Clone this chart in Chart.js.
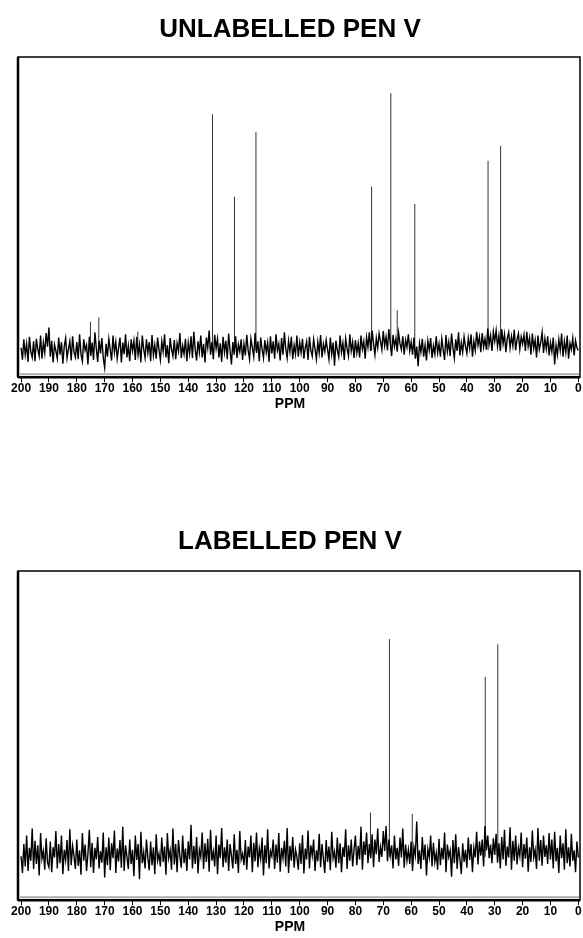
<!DOCTYPE html>
<html>
<head>
<meta charset="utf-8">
<script src="https://cdn.jsdelivr.net/npm/chart.js@4.4.1/dist/chart.umd.min.js"></script>
<style>
  html, body { margin: 0; padding: 0; background: #fff; }
  .panel { position: absolute; left: 0; width: 583px; }
</style>
</head>
<body>
<div class="panel" style="top:0px;height:413px"><canvas id="c1"></canvas></div>
<div class="panel" style="top:515px;height:423px"><canvas id="c2"></canvas></div>
<script>
// ---------------- DATA ----------------
const titles = ["UNLABELLED PEN V", "LABELLED PEN V"];
const axisTitle = "PPM";
const tickValues = [200,190,180,170,160,150,140,130,120,110,100,90,80,70,60,50,40,30,20,10,0];

// noise trace sampled every 0.5 ppm from 200 ppm down to 0 ppm (intensity, 0-1000 scale)
const noiseStartPpm = 200;
const noiseStepPpm = 0.5;

const topBaseline = 84;
const topNoise = [
 92,55,118,70,104,48,126,80,62,112,50,120,88,66,130,58,108,76,138,95,
 155,64,114,46,102,82,58,124,70,110,42,96,122,60,88,112,52,128,78,62,
 110,56,134,72,50,118,84,100,40,126,66,108,54,140,90,48,114,74,122,60,
 30,104,64,120,86,52,130,78,110,58,92,124,46,108,72,134,62,98,50,118,
 82,114,54,126,70,102,46,130,88,60,118,76,110,50,132,68,100,58,124,86,
 54,112,80,134,62,100,44,122,88,66,116,56,106,82,138,60,98,72,120,50,
 108,74,128,60,142,86,52,112,78,130,62,104,46,124,92,146,70,110,56,132,
 90,120,62,106,48,126,78,114,56,136,84,40,110,70,128,60,102,80,118,54,
 104,68,132,84,56,120,92,64,138,76,112,50,124,88,60,116,78,108,48,128,
 74,112,58,134,84,104,52,122,70,140,88,60,114,80,126,56,100,72,130,64,
 108,76,120,58,92,112,54,126,84,66,118,88,56,110,76,132,62,104,80,116,
 86,56,124,72,108,36,114,84,64,130,78,106,54,120,90,66,134,82,110,60,
 116,76,106,62,130,88,112,58,124,94,140,82,146,104,70,122,92,136,112,86,
 144,98,126,84,150,108,66,132,96,120,80,138,104,86,128,70,116,94,134,82,
 110,70,124,58,96,34,106,78,120,64,100,52,114,84,122,60,98,72,128,76,
 104,64,120,86,54,132,80,110,66,136,92,60,118,82,140,68,108,78,126,96,
 74,122,90,134,64,112,84,142,100,126,78,138,94,120,86,152,104,130,82,142,
 112,146,96,130,82,150,104,134,78,122,140,92,128,98,148,84,118,136,88,126,
 104,132,82,142,96,122,70,136,90,116,62,130,86,108,140,76,120,88,128,68,
 108,80,124,40,100,70,118,84,136,64,112,78,130,58,106,86,122,68,114,92,
 84
];
const topPeakPpm    = [175.1, 172.1, 158.1, 131.3, 123.4, 115.7, 74.2, 67.3, 65.0, 58.7, 32.4, 27.9];
const topPeakHeight = [173,   187,   142,   821,   563,   765,   595,  887,  209,  541,  676,  722];

const bottomBaseline = 110;
const bottomNoise = [
 112,60,150,80,176,66,138,98,198,72,160,88,146,52,184,104,128,70,168,92,
 78,158,62,140,108,190,74,150,90,176,56,132,100,162,66,196,84,144,112,72,
 164,82,130,54,184,98,148,66,120,194,78,154,60,138,102,172,74,128,92,186,
 46,140,84,170,68,152,106,192,60,136,96,162,76,204,66,146,110,72,164,88,
 132,50,176,100,150,40,188,90,124,74,164,108,68,158,84,140,56,180,98,120,
 80,170,94,142,54,184,106,130,70,198,86,150,62,162,112,76,176,90,136,66,
 158,102,210,74,144,88,172,58,132,110,186,72,152,94,166,64,194,98,126,80,
 176,56,148,106,200,78,140,92,164,66,150,114,74,180,88,132,60,190,102,120,
 84,162,70,142,108,176,62,154,96,186,78,136,104,170,52,146,90,196,74,128,
 112,164,72,148,92,184,64,138,106,160,80,200,60,144,98,172,76,132,110,70,
 152,88,178,58,136,102,192,74,146,114,164,66,130,96,182,78,150,104,60,162,
 94,142,68,188,106,126,76,170,90,152,62,140,110,196,72,146,98,164,80,132,
 176,84,144,102,204,70,158,116,186,90,150,106,180,78,164,118,198,94,140,110,
 190,128,206,96,164,114,146,74,176,102,138,82,170,108,198,76,148,98,132,88,
 158,66,140,114,220,88,130,72,172,100,148,52,134,108,176,80,154,94,122,70,
 166,84,138,102,186,62,148,110,130,48,162,90,180,72,140,104,56,152,94,132,
 76,170,100,150,62,138,108,188,86,158,114,164,80,206,130,176,106,148,90,168,
 116,182,92,152,74,172,102,194,82,142,108,202,70,160,98,176,86,138,112,186,
 78,150,104,170,64,140,94,192,108,132,72,200,98,162,82,176,110,146,88,184,
 102,164,74,188,96,138,60,176,106,152,70,196,90,140,80,182,98,130,62,158,
 108
];
const bottomPeakPpm    = [74.6, 67.8, 59.6, 33.4, 28.9];
const bottomPeakHeight = [248,  788,  244,  670,  772];

// ---------------- BUILD ----------------
const FONT = "'Liberation Sans', Arial, Helvetica, sans-serif";

function noisePoints(values) {
  return values.map((v, i) => ({ x: noiseStartPpm - i * noiseStepPpm, y: v }));
}
function peakPoints(ppms, heights, base) {
  const pts = [];
  ppms.forEach((p, i) => {
    pts.push({ x: p, y: base });
    pts.push({ x: p, y: heights[i] });
    pts.push({ x: p, y: null });
  });
  return pts;
}

const framePlugin = {
  id: 'frame',
  afterDatasetsDraw(chart) {
    const a = chart.chartArea, ctx = chart.ctx;
    ctx.save();
    ctx.strokeStyle = '#000';
    ctx.lineWidth = 1.5;
    ctx.strokeRect(a.left, a.top, a.right - a.left, a.bottom - a.top);
    ctx.lineWidth = 2.5;
    ctx.beginPath(); ctx.moveTo(a.left, a.top); ctx.lineTo(a.left, a.bottom); ctx.stroke();
    ctx.beginPath(); ctx.moveTo(a.left, a.bottom); ctx.lineTo(a.right, a.bottom); ctx.stroke();
    ctx.strokeStyle = '#aaa';
    ctx.lineWidth = 2;
    ctx.beginPath(); ctx.moveTo(a.left + 2, a.bottom - 3); ctx.lineTo(a.right - 1, a.bottom - 3); ctx.stroke();
    ctx.restore();
  }
};

function makeChart(id, title, noise, peaksPpm, peaksH, base, titlePadTop, titlePadBottom, padBottom, yMin) {
  return new Chart(document.getElementById(id), {
    type: 'scatter',
    data: {
      datasets: [
        { data: noisePoints(noise), showLine: true, borderColor: '#000', borderWidth: 1.4,
          pointRadius: 0, tension: 0 },
        { data: peakPoints(peaksPpm, peaksH, base), showLine: true, borderColor: '#333',
          borderWidth: 1, pointRadius: 0, tension: 0, spanGaps: false }
      ]
    },
    options: {
      responsive: true, maintainAspectRatio: false, animation: false,
      layout: { padding: { left: 0, right: 3, top: 0, bottom: padBottom } },
      plugins: {
        legend: { display: false }, tooltip: { enabled: false },
        title: { display: true, text: title, color: '#000',
                 font: { family: FONT, size: 26, weight: 'bold' },
                 padding: { top: titlePadTop, bottom: titlePadBottom } },
        subtitle: { display: true, position: 'bottom', text: axisTitle, color: '#000',
                 font: { family: FONT, size: 14, weight: 'bold' },
                 padding: { top: 2, bottom: 0 } }
      },
      scales: {
        x: {
          type: 'linear', reverse: true, min: -0.6, max: 201.1,
          afterBuildTicks: (scale) => { scale.ticks = tickValues.map(v => ({ value: v })); },
          border: { display: false },
          grid: { drawOnChartArea: false, drawTicks: true, tickLength: 5, color: '#000', lineWidth: 1 },
          ticks: { color: '#000', padding: 0, maxRotation: 0, autoSkip: false,
                   font: { family: FONT, size: 12, weight: 'bold', lineHeight: 1 } }
        },
        y: {
          display: true, min: yMin, max: 1000,
          ticks: { display: false }, grid: { display: false }, border: { display: false },
          afterFit: (scale) => { scale.width = 18; }
        }
      }
    },
    plugins: [framePlugin]
  });
}

makeChart('c1', titles[0], topNoise, topPeakPpm, topPeakHeight, topBaseline, 14.4, 11.4, 0, 0);
makeChart('c2', titles[1], bottomNoise, bottomPeakPpm, bottomPeakHeight, bottomBaseline, 11.4, 13.4, 2, -25);
</script>
</body>
</html>
